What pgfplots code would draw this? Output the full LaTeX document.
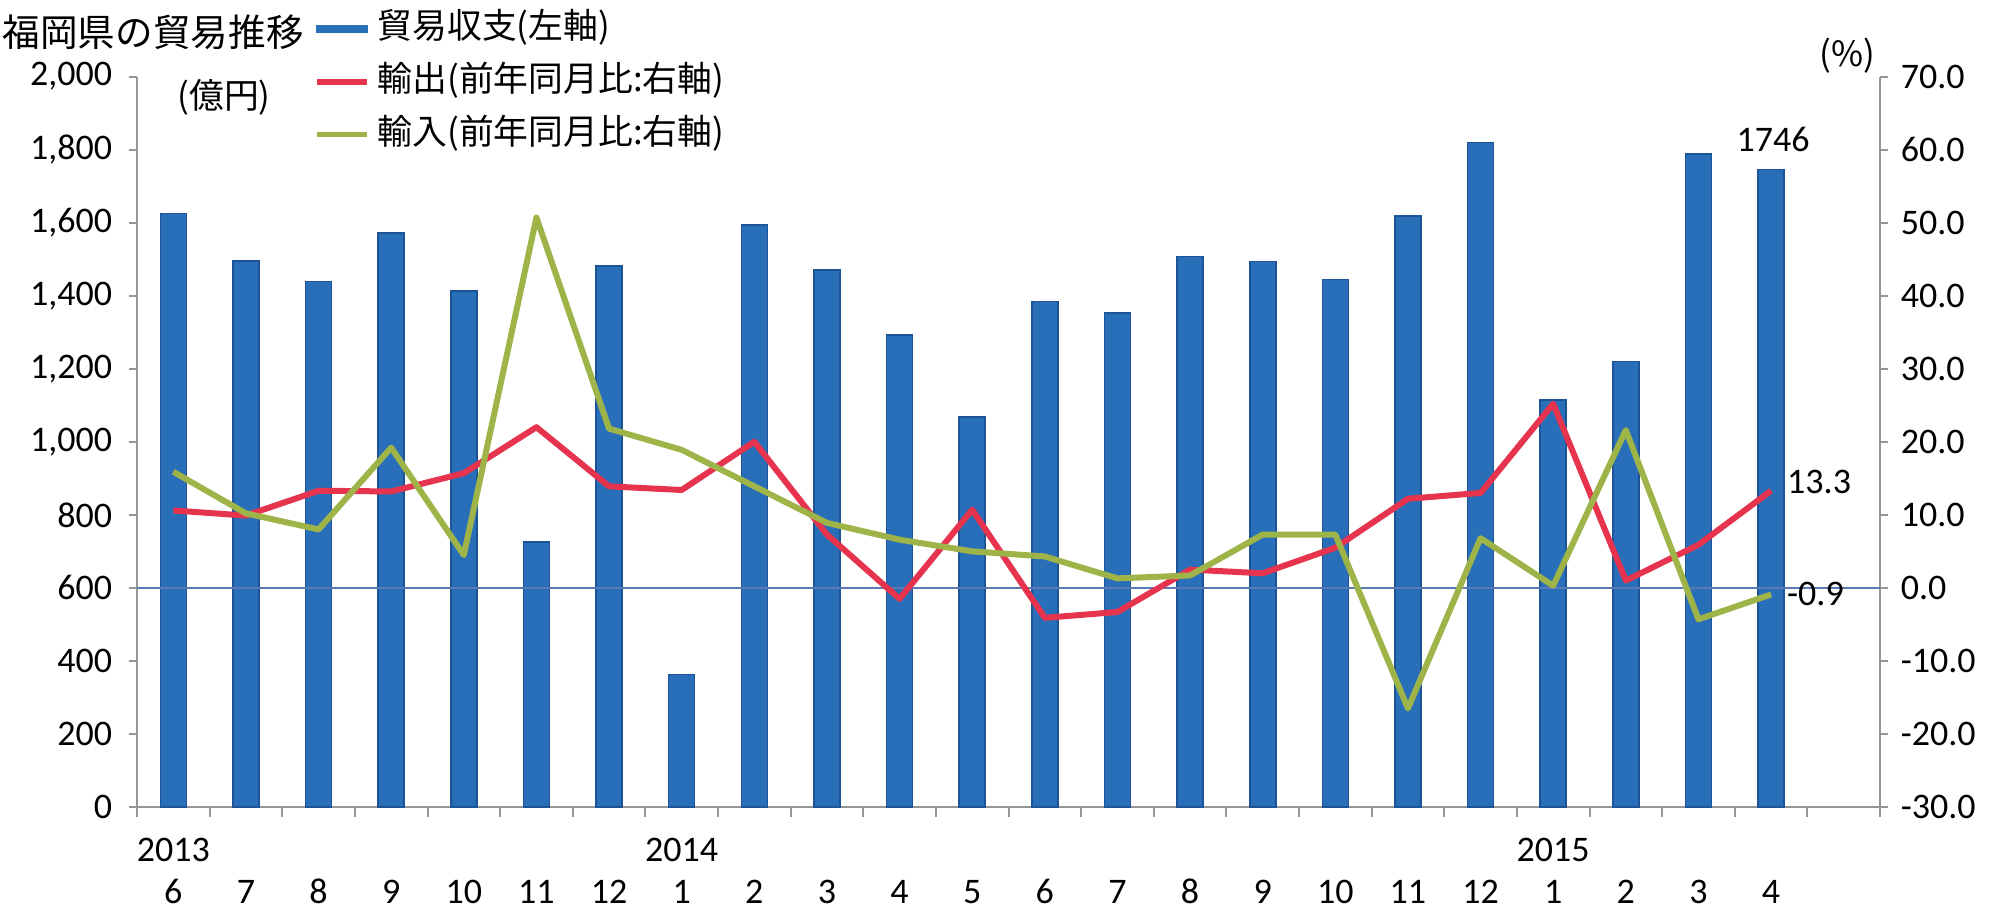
\documentclass[border=0pt]{standalone}
\usepackage{fontspec}
\setmainfont{Carlito}
\newfontfamily\cjk{Noto Sans CJK JP}
\usepackage{pgfplots}
\usepackage{pgfplotstable}
\pgfplotsset{compat=1.18}
\definecolor{barblue}{RGB}{40,110,185}
\definecolor{baredge}{RGB}{28,84,150}
\definecolor{expred}{RGB}{230,52,78}
\definecolor{impgreen}{RGB}{158,180,72}
\definecolor{zeroline}{RGB}{90,120,180}
\definecolor{axgray}{RGB}{150,150,150}
\pgfplotstableread{
x bal exp imp
0 1625 10.6 15.9
1 1495 9.9 10.2
2 1439 13.3 8.0
3 1571 13.2 19.2
4 1413 15.7 4.5
5 726 22.0 50.7
6 1481 13.9 21.8
7 363 13.4 18.9
8 1593 20.0 13.9
9 1470 7.3 8.9
10 1292 -1.5 6.6
11 1068 10.7 5.0
12 1384 -4.1 4.3
13 1353 -3.3 1.3
14 1507 2.5 1.7
15 1494 2.0 7.3
16 1444 5.5 7.3
17 1619 12.2 -16.5
18 1820 13.0 6.8
19 1115 25.2 0.3
20 1220 1.0 21.6
21 1788 5.9 -4.3
22 1746 13.3 -0.9
}\data
\newcommand{\tickfont}{\fontsize{9}{10.5}\selectfont}
\newcommand{\cjkfont}{\cjk\fontsize{8.7}{11}\selectfont}
\begin{document}
\begin{tikzpicture}
\pgfplotsset{
  common/.style={
    scale only axis, width=435.75pt, height=182.6pt,
    at={(34.25pt,26pt)}, anchor=south west,
    xmin=-0.5, xmax=23.5,
    axis line style={axgray, line width=0.6pt, -},
    tick style={axgray, line width=0.5pt},
    tick align=outside,
    major tick length=2pt, minor tick length=2.5pt,
    ticklabel style={font=\tickfont},
    /pgf/number format/assume math mode=true,
  }
}
\begin{axis}[common,
  ymin=0, ymax=2000,
  axis x line*=bottom, axis y line*=left,
  ytick={0,200,...,2000},
  scaled y ticks=false,
  yticklabel style={/pgf/number format/1000 sep={,}, inner sep=0pt, xshift=-4pt},
  xtick={0,...,22},
  minor xtick={-0.5,0.5,...,23.5},
  major x tick style={draw=none},
  xticklabels={{\strut 2013\\6},{\strut\\7},{\strut\\8},{\strut\\9},{\strut\\10},{\strut\\11},{\strut\\12},{\strut 2014\\1},{\strut\\2},{\strut\\3},{\strut\\4},{\strut\\5},{\strut\\6},{\strut\\7},{\strut\\8},{\strut\\9},{\strut\\10},{\strut\\11},{\strut\\12},{\strut 2015\\1},{\strut\\2},{\strut\\3},{\strut\\4}},
  xticklabel style={align=center, inner sep=0pt, yshift=-4pt},
]
\addplot[ybar, bar width=6.5pt, fill=barblue, draw=baredge, line width=0.4pt] table[x=x,y=bal]{\data};
\node[font=\tickfont, xshift=0.5pt, yshift=7.4pt] at (axis cs:22,1746) {1746};
\end{axis}
\begin{axis}[common,
  ymin=-30, ymax=70,
  axis x line=none, axis y line*=right,
  ytick={-30,-20,...,70},
  yticklabel style={/pgf/number format/fixed, /pgf/number format/fixed zerofill, /pgf/number format/precision=1, inner sep=0pt, xshift=3pt},
  legend style={draw=none, fill=none, inner sep=0pt, outer sep=0pt,
    at={(0.1016,1.0953)}, anchor=north west, font=\cjkfont,
    row sep=2.2pt,
    /tikz/every odd column/.append style={column sep=1pt},
    nodes={text height=7pt, text depth=2pt, inner sep=1pt}},
  legend cell align=left,
]
\draw[zeroline, line width=0.6pt] (axis cs:-0.5,0) -- (axis cs:23.5,0);
\addlegendimage{legend image code/.code={\fill[barblue] (0pt,-0.9pt) rectangle (12.5pt,0.9pt);}}
\addlegendentry{貿易収支(左軸)}
\addplot[expred, line width=1.5pt, line join=round,
  legend image code/.code={\draw[expred, line width=1.4pt] (0pt,0pt) -- (12.5pt,0pt);}]
  table[x=x,y=exp]{\data};
\addlegendentry{輸出(前年同月比:右軸)}
\addplot[impgreen, line width=1.5pt, line join=round,
  legend image code/.code={\draw[impgreen, line width=1.4pt] (0pt,0pt) -- (12.5pt,0pt);}]
  table[x=x,y=imp]{\data};
\addlegendentry{輸入(前年同月比:右軸)}
\node[font=\tickfont, anchor=west, xshift=0.5pt, yshift=2.2pt] at (axis cs:22,13.3) {13.3};
\node[font=\tickfont, anchor=west, xshift=0.5pt] at (axis cs:22,-0.9) {-0.9};
\end{axis}
\node[anchor=west, inner sep=0pt, font=\cjk\fontsize{9.4}{11}\selectfont] at (0.5pt,219.75pt) {福岡県の貿易推移};
\node[inner sep=0pt, font=\cjkfont] at (56pt,203.5pt) {(億円)};
\node[inner sep=0pt, font=\cjkfont] at (461.75pt,213.75pt) {(\%)};
\pgfresetboundingbox
\path[use as bounding box] (0,0) rectangle (499.75pt,227.75pt);
\end{tikzpicture}
\end{document}
